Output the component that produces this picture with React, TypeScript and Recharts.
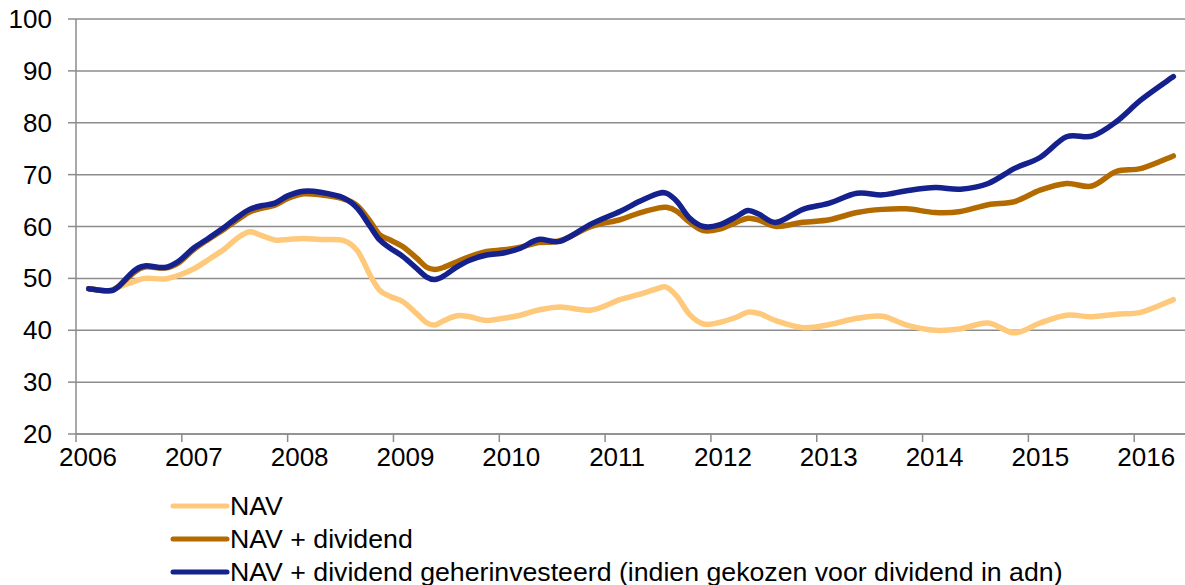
import React from "react";
import { LineChart, Line, XAxis, YAxis, CartesianGrid, Legend } from "recharts";

const dates = [
  2006.12, 2006.31, 2006.4, 2006.54, 2006.65, 2006.84, 2006.97, 2007.11, 2007.25, 2007.4,
  2007.52, 2007.64, 2007.75, 2007.88, 2008.0, 2008.15, 2008.31, 2008.53, 2008.66, 2008.78,
  2008.87, 2008.97, 2009.09, 2009.22, 2009.31, 2009.39, 2009.47, 2009.6, 2009.72, 2009.88,
  2010.04, 2010.2, 2010.37, 2010.58, 2010.87, 2011.14, 2011.32, 2011.49, 2011.58, 2011.68,
  2011.8, 2011.93, 2012.08, 2012.24, 2012.35, 2012.46, 2012.62, 2012.87, 2013.12, 2013.38,
  2013.62, 2013.85, 2014.12, 2014.36, 2014.62, 2014.87, 2015.11, 2015.36, 2015.6, 2015.83,
  2016.07, 2016.37,
];

const navValues = [
  48.0, 47.6, 48.3, 49.3, 50.0, 49.9, 50.6, 51.8, 53.6, 55.6,
  57.7, 59.0, 58.3, 57.4, 57.5, 57.7, 57.5, 57.3, 55.3, 50.6,
  47.7, 46.5, 45.5, 43.2, 41.5, 41.0, 41.8, 42.8, 42.6, 41.9,
  42.3, 42.9, 43.9, 44.5, 43.9, 45.9, 46.9, 48.0, 48.3, 46.5,
  43.0, 41.2, 41.5, 42.5, 43.5, 43.2, 41.8, 40.5, 41.1, 42.3,
  42.7, 41.0, 40.0, 40.3, 41.4, 39.5, 41.4, 42.9, 42.6, 43.1,
  43.5, 45.9,
];

const navDividendValues = [
  48.0, 47.6, 48.4, 51.0, 52.2, 52.0, 53.0, 55.5, 57.5, 59.5,
  61.2, 62.8, 63.5, 64.1, 65.4, 66.3, 66.1, 65.3, 64.0, 61.0,
  58.4, 57.4, 56.1, 53.9, 52.2, 51.7, 52.1, 53.2, 54.2, 55.2,
  55.5, 56.0, 56.9, 57.3, 60.0, 61.3, 62.6, 63.5, 63.7, 62.9,
  60.8, 59.2, 59.5, 60.8, 61.6, 61.2, 60.0, 60.8, 61.3, 62.7,
  63.3, 63.4, 62.7, 62.9, 64.2, 64.8, 67.0, 68.3, 67.8, 70.6,
  71.2, 73.6,
];

const navReinvestedValues = [
  48.0, 47.6, 48.4, 51.3, 52.4, 52.1, 53.3, 55.8, 57.7, 59.8,
  61.7, 63.3, 64.0, 64.5, 65.9, 66.8, 66.6, 65.5, 63.5, 60.0,
  57.4, 55.8, 54.2, 51.9, 50.3, 49.8, 50.4, 52.2, 53.5, 54.5,
  54.9, 55.8, 57.5, 57.2, 60.5, 62.9, 64.8, 66.3, 66.4, 64.8,
  61.6, 60.0, 60.3, 61.9, 63.1, 62.3, 60.8, 63.3, 64.5, 66.4,
  66.1, 66.9, 67.5, 67.2, 68.3, 71.2, 73.3, 77.3, 77.4, 80.2,
  84.5, 88.9,
];

const xTicks = [2006, 2007, 2008, 2009, 2010, 2011, 2012, 2013, 2014, 2015, 2016];
const yTicks = [20, 30, 40, 50, 60, 70, 80, 90, 100];

const seriesNames = [
  "NAV",
  "NAV + dividend",
  "NAV + dividend geherinvesteerd (indien gekozen voor dividend in adn)",
];
const seriesKeys = ["nav", "navDiv", "navReinv"];
const seriesColors = ["#FFC97C", "#B36B00", "#15218C"];

const data = dates.map((t, i) => ({
  t,
  nav: navValues[i],
  navDiv: navDividendValues[i],
  navReinv: navReinvestedValues[i],
}));

const FONT = "'Liberation Sans', Arial, sans-serif";
const AXIS_COLOR = "#8c8c8c";

// Excel-like smoothed line (uniform Catmull-Rom as cubic Bezier segments)
const smoothCurve = (context: any) => {
  let pts: number[][] = [];
  return {
    areaStart() {},
    areaEnd() {},
    lineStart() {
      pts = [];
    },
    point(x: number, y: number) {
      pts.push([+x, +y]);
    },
    lineEnd() {
      if (!pts.length) return;
      context.moveTo(pts[0][0], pts[0][1]);
      for (let i = 0; i < pts.length - 1; i++) {
        const p0 = pts[i - 1] || pts[i];
        const p1 = pts[i];
        const p2 = pts[i + 1];
        const p3 = pts[i + 2] || p2;
        context.bezierCurveTo(
          p1[0] + (p2[0] - p0[0]) / 6,
          p1[1] + (p2[1] - p0[1]) / 6,
          p2[0] - (p3[0] - p1[0]) / 6,
          p2[1] - (p3[1] - p1[1]) / 6,
          p2[0],
          p2[1]
        );
      }
    },
  };
};

const XTick = (props: any) => {
  const { x, y, payload } = props;
  return (
    <text x={x + 12} y={y} dy={24} textAnchor="middle" fontSize={26} fontFamily={FONT} fill="#000">
      {payload.value}
    </text>
  );
};

const YTick = (props: any) => {
  const { x, y, payload } = props;
  return (
    <text x={x} y={y} dy={9} textAnchor="end" fontSize={26} fontFamily={FONT} fill="#000">
      {payload.value}
    </text>
  );
};

const LegendContent = () => (
  <div style={{ height: 100, fontFamily: FONT, fontSize: 26.7, color: "#000" }}>
    {seriesNames.map((name, i) => (
      <div key={name} style={{ height: 33.3, display: "flex", alignItems: "center", whiteSpace: "nowrap" }}>
        <svg width={60} height={10} style={{ display: "block" }}>
          <line x1={3} y1={5} x2={57} y2={5} stroke={seriesColors[i]} strokeWidth={5} strokeLinecap="round" />
        </svg>
        <span style={{ lineHeight: "30px" }}>{name}</span>
      </div>
    ))}
  </div>
);

export default function App() {
  return (
    <div style={{ position: "absolute", left: 0, top: 0, width: 1185, height: 585, background: "#fff" }}>
      <LineChart
        width={1185}
        height={585}
        data={data}
        margin={{ top: 19, right: 0, left: 0, bottom: 0 }}
      >
        <CartesianGrid vertical={false} stroke={AXIS_COLOR} strokeWidth={1.5} />
        <XAxis
          dataKey="t"
          type="number"
          domain={[2006, 2016.48]}
          ticks={xTicks}
          allowDataOverflow
          interval={0}
          height={51}
          tickSize={8}
          tickMargin={0}
          axisLine={{ stroke: AXIS_COLOR, strokeWidth: 1.5 }}
          tickLine={{ stroke: AXIS_COLOR, strokeWidth: 1.5 }}
          tick={<XTick />}
        />
        <YAxis
          type="number"
          domain={[20, 100]}
          ticks={yTicks}
          interval={0}
          width={76}
          tickSize={8}
          tickMargin={16}
          axisLine={{ stroke: AXIS_COLOR, strokeWidth: 1.5 }}
          tickLine={{ stroke: AXIS_COLOR, strokeWidth: 1.5 }}
          tick={<YTick />}
        />
        <Legend
          layout="vertical"
          verticalAlign="bottom"
          align="center"
          content={<LegendContent />}
          wrapperStyle={{ left: 170, top: 489, bottom: "auto", width: 1015, height: 100 }}
        />
        {seriesKeys.map((k, i) => (
          <Line
            key={k}
            dataKey={k}
            name={seriesNames[i]}
            type={smoothCurve as any}
            stroke={seriesColors[i]}
            strokeWidth={5.5}
            strokeLinejoin="round"
            strokeLinecap="round"
            dot={false}
            activeDot={false}
            isAnimationActive={false}
          />
        ))}
      </LineChart>
    </div>
  );
}
